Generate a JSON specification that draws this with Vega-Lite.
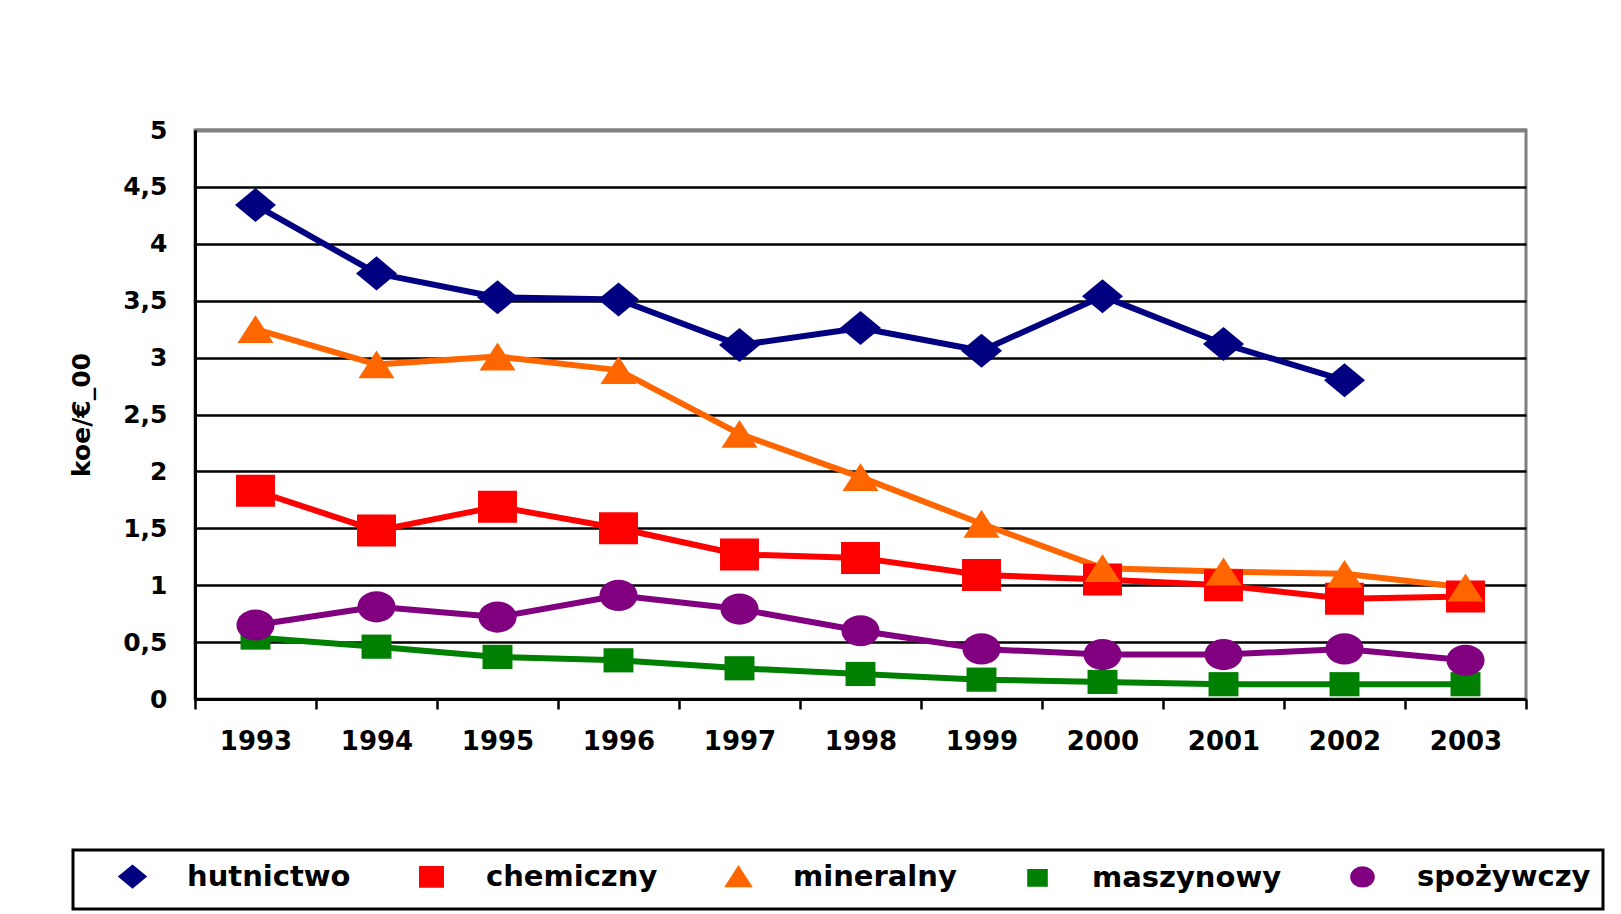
{
  "$schema": "https://vega.github.io/schema/vega-lite/v6.json",
  "width": 1331,
  "height": 569,
  "autosize": "none",
  "padding": {"left": 195, "top": 130, "right": 95, "bottom": 215},
  "background": "white",
  "config": {
    "view": {"stroke": "#808080", "strokeWidth": 3},
    "font": "DejaVu Sans",
    "legend": {"strokeWidth": 3}
  },
  "data": {
    "values": [
      {"year": "1993", "series": "hutnictwo", "value": 4.34},
      {"year": "1994", "series": "hutnictwo", "value": 3.74},
      {"year": "1995", "series": "hutnictwo", "value": 3.53},
      {"year": "1996", "series": "hutnictwo", "value": 3.51},
      {"year": "1997", "series": "hutnictwo", "value": 3.11},
      {"year": "1998", "series": "hutnictwo", "value": 3.26},
      {"year": "1999", "series": "hutnictwo", "value": 3.06},
      {"year": "2000", "series": "hutnictwo", "value": 3.54},
      {"year": "2001", "series": "hutnictwo", "value": 3.12},
      {"year": "2002", "series": "hutnictwo", "value": 2.80},
      {"year": "1993", "series": "chemiczny", "value": 1.83},
      {"year": "1994", "series": "chemiczny", "value": 1.48},
      {"year": "1995", "series": "chemiczny", "value": 1.69},
      {"year": "1996", "series": "chemiczny", "value": 1.50},
      {"year": "1997", "series": "chemiczny", "value": 1.27},
      {"year": "1998", "series": "chemiczny", "value": 1.24},
      {"year": "1999", "series": "chemiczny", "value": 1.09},
      {"year": "2000", "series": "chemiczny", "value": 1.05},
      {"year": "2001", "series": "chemiczny", "value": 1.00},
      {"year": "2002", "series": "chemiczny", "value": 0.88},
      {"year": "2003", "series": "chemiczny", "value": 0.90},
      {"year": "1993", "series": "mineralny", "value": 3.25},
      {"year": "1994", "series": "mineralny", "value": 2.94},
      {"year": "1995", "series": "mineralny", "value": 3.01},
      {"year": "1996", "series": "mineralny", "value": 2.89},
      {"year": "1997", "series": "mineralny", "value": 2.33},
      {"year": "1998", "series": "mineralny", "value": 1.95},
      {"year": "1999", "series": "mineralny", "value": 1.54},
      {"year": "2000", "series": "mineralny", "value": 1.15},
      {"year": "2001", "series": "mineralny", "value": 1.12},
      {"year": "2002", "series": "mineralny", "value": 1.10},
      {"year": "2003", "series": "mineralny", "value": 0.98},
      {"year": "1993", "series": "maszynowy", "value": 0.54},
      {"year": "1994", "series": "maszynowy", "value": 0.46},
      {"year": "1995", "series": "maszynowy", "value": 0.37},
      {"year": "1996", "series": "maszynowy", "value": 0.34},
      {"year": "1997", "series": "maszynowy", "value": 0.27},
      {"year": "1998", "series": "maszynowy", "value": 0.22},
      {"year": "1999", "series": "maszynowy", "value": 0.17},
      {"year": "2000", "series": "maszynowy", "value": 0.15},
      {"year": "2001", "series": "maszynowy", "value": 0.13},
      {"year": "2002", "series": "maszynowy", "value": 0.13},
      {"year": "2003", "series": "maszynowy", "value": 0.13},
      {"year": "1993", "series": "spożywczy", "value": 0.65},
      {"year": "1994", "series": "spożywczy", "value": 0.81},
      {"year": "1995", "series": "spożywczy", "value": 0.72},
      {"year": "1996", "series": "spożywczy", "value": 0.91},
      {"year": "1997", "series": "spożywczy", "value": 0.79},
      {"year": "1998", "series": "spożywczy", "value": 0.60},
      {"year": "1999", "series": "spożywczy", "value": 0.44},
      {"year": "2000", "series": "spożywczy", "value": 0.39},
      {"year": "2001", "series": "spożywczy", "value": 0.39},
      {"year": "2002", "series": "spożywczy", "value": 0.44},
      {"year": "2003", "series": "spożywczy", "value": 0.34}
    ]
  },
  "encoding": {
    "x": {
      "field": "year",
      "type": "ordinal",
      "bandPosition": 0.5,
      "scale": {"type": "band", "paddingInner": 0, "paddingOuter": 0},
      "axis": {
        "title": null,
        "tickBand": "extent",
        "labelAngle": 0,
        "labelFont": "DejaVu Sans",
        "labelFontWeight": "bold",
        "labelFontSize": 26,
        "labelColor": "black",
        "labelPadding": 19,
        "tickSize": 10,
        "tickWidth": 2.5,
        "tickColor": "black",
        "domainColor": "black",
        "domainWidth": 3,
        "grid": false
      }
    },
    "y": {
      "field": "value",
      "type": "quantitative",
      "scale": {"domain": [0, 5], "nice": false, "zero": true},
      "axis": {
        "title": "koe/€_00",
        "titleFont": "DejaVu Sans",
        "titleFontWeight": "bold",
        "titleFontSize": 25,
        "titleColor": "black",
        "titlePadding": 28,
        "values": [0, 0.5, 1, 1.5, 2, 2.5, 3, 3.5, 4, 4.5, 5],
        "format": "~g",
        "labelExpr": "replace(datum.label, '.', ',')",
        "labelFont": "DejaVu Sans",
        "labelFontWeight": "bold",
        "labelFontSize": 25,
        "labelColor": "black",
        "labelPadding": 28,
        "ticks": false,
        "domainColor": "black",
        "domainWidth": 3,
        "grid": true,
        "gridColor": {"condition": {"test": "datum.value === 5", "value": "#808080"}, "value": "black"},
        "gridWidth": {"condition": {"test": "datum.value === 5", "value": 4}, "value": 2.5},
        "gridOpacity": 1
      }
    }
  },
  "layer": [
    {
      "mark": {"type": "line", "strokeJoin": "round"},
      "encoding": {
        "color": {
          "field": "series",
          "type": "nominal",
          "scale": {
            "domain": ["hutnictwo", "chemiczny", "mineralny", "maszynowy", "spożywczy"],
            "range": ["#000080", "#FF0000", "#FF6600", "#008000", "#800080"]
          },
          "legend": {
            "orient": "none",
            "legendX": -122,
            "legendY": 720,
            "direction": "horizontal",
            "columns": 5,
            "title": null,
            "labelFont": "DejaVu Sans",
            "labelFontWeight": "bold",
            "labelFontSize": 29,
            "labelColor": "black",
            "labelLimit": 0,
            "labelOffset": 40,
            "symbolOffset": 33,
            "columnPadding": 33,
            "padding": 12,
            "strokeColor": "black",
            "symbolSize": 400,
            "symbolStrokeWidth": 2
          }
        },
        "strokeWidth": {
          "field": "series",
          "type": "nominal",
          "scale": {
            "domain": ["hutnictwo", "chemiczny", "mineralny", "maszynowy", "spożywczy"],
            "range": [6, 6, 6, 3.5, 6]
          },
          "legend": null
        }
      }
    },
    {
      "mark": {"type": "point", "filled": true, "opacity": 1, "strokeWidth": 0, "size": 1681},
      "encoding": {
        "fill": {
          "field": "series",
          "type": "nominal",
          "scale": {
            "domain": ["hutnictwo", "chemiczny", "mineralny", "maszynowy", "spożywczy"],
            "range": ["#000080", "#FF0000", "#FF6600", "#008000", "#800080"]
          },
          "legend": null
        },
        "shape": {
          "field": "series",
          "type": "nominal",
          "scale": {
            "domain": ["hutnictwo", "chemiczny", "mineralny", "maszynowy", "spożywczy"],
            "range": [
              "M0,-0.83L1,0L0,0.83L-1,0Z",
              "M-0.95,-0.78H0.95V0.78H-0.95Z",
              "M0,-0.68L0.88,0.68L-0.88,0.68Z",
              "M-0.73,-0.59H0.73V0.59H-0.73Z",
              "M0.93,0C0.93,0.4197,0.5136,0.76,0,0.76C-0.5136,0.76,-0.93,0.4197,-0.93,0C-0.93,-0.4197,-0.5136,-0.76,0,-0.76C0.5136,-0.76,0.93,-0.4197,0.93,0Z"
            ]
          },
          "legend": null
        }
      }
    }
  ]
}
